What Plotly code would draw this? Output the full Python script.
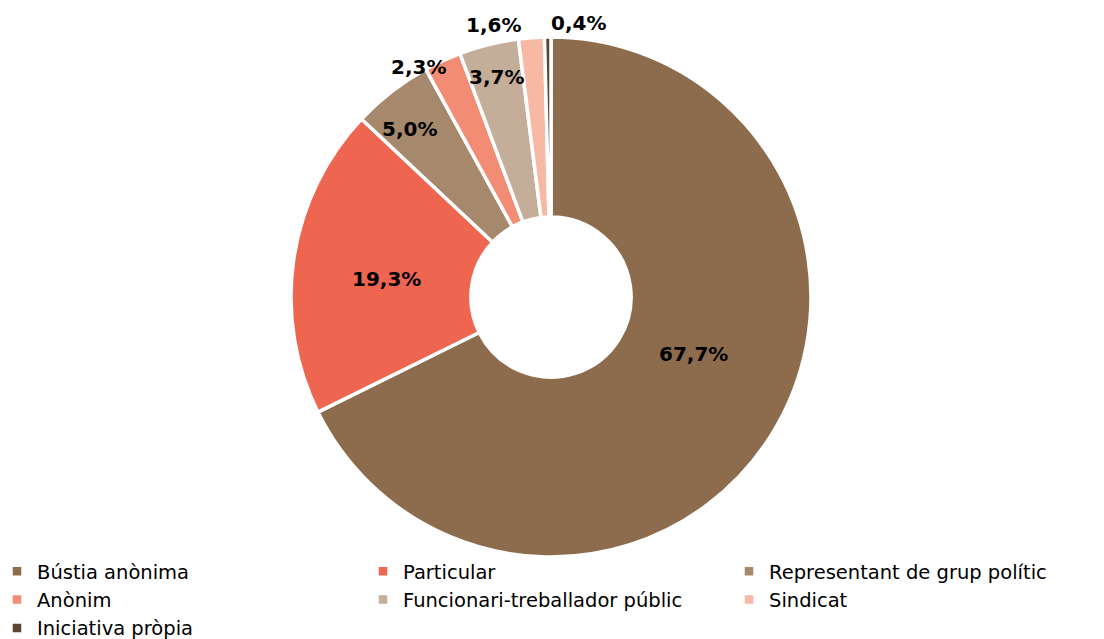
import math
import plotly.graph_objects as go

categories = ["Bústia anònima", "Particular", "Representant de grup polític", "Anònim",
              "Funcionari-treballador públic", "Sindicat", "Iniciativa pròpia"]
values = [67.7, 19.3, 5.0, 2.3, 3.7, 1.6, 0.4]
colors = ["#8D6C4D", "#EE6550", "#A6886C", "#F28C74", "#C4AE9A", "#F7B9A4", "#5B4532"]

# label placement style (relative radius and angular nudge from each slice's mid-angle)
label_radius = [0.59, 0.635, 0.845, 1.02, 0.87, 1.07, 1.06]
label_nudge_deg = [-10.2, -2.3, -2.4, -5.2, -0.1, -7.7, 6.5]

W, H = 1104, 639
PAGE_MARGIN = 8           # default body margin of the html page
cx, cy, r = 551 - PAGE_MARGIN, 297 - PAGE_MARGIN, 260

fig = go.Figure(go.Pie(
    labels=categories,
    values=values,
    sort=False,
    direction="clockwise",
    rotation=0,
    hole=0.308,
    marker=dict(colors=colors, line=dict(color="white", width=3.5)),
    textinfo="none",
    hoverinfo="label+percent",
    domain=dict(x=[(cx - r) / W, (cx + r) / W], y=[(H - cy - r) / H, (H - cy + r) / H]),
))

total = sum(values)
cum = 0.0
for i, v in enumerate(values):
    mid = (cum + v / 2) / total * 360.0
    cum += v
    ang = math.radians(mid + label_nudge_deg[i])
    rr = r * label_radius[i]
    px = cx + rr * math.sin(ang)
    py = cy - rr * math.cos(ang)
    fig.add_annotation(
        x=px / W, y=1 - py / H, xref="paper", yref="paper",
        text=f"{v:.1f}%".replace(".", ","), showarrow=False,
        xanchor="center", yanchor="middle",
        font=dict(family="DejaVu Sans", size=20, color="black", weight="bold"),
    )

fig.update_layout(
    width=W, height=H,
    paper_bgcolor="white",
    plot_bgcolor="white",
    margin=dict(l=0, r=0, t=0, b=0, autoexpand=False),
    font=dict(family="DejaVu Sans", color="black"),
    legend=dict(
        orientation="h",
        x=0.0, xanchor="left",
        y=(H - 544) / H, yanchor="top",
        font=dict(size=19.5, family="DejaVu Sans", color="black"),
        entrywidth=332,
        itemwidth=30,
        indentation=-11,
        tracegroupgap=0,
        bgcolor="rgba(0,0,0,0)",
    ),
    showlegend=True,
)

fig.write_html("out.html")
